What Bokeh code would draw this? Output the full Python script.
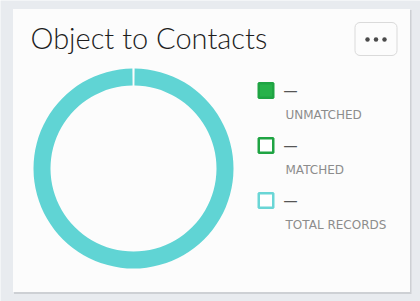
import numpy as np
from bokeh.plotting import figure
from bokeh.models import Range1d
from bokeh.core.properties import value
from bokeh.embed import file_html
from bokeh.resources import INLINE

# ---- data ----
title_text = "Object to Contacts"
categories = ["UNMATCHED", "MATCHED", "TOTAL RECORDS"]
display_values = ["\u2014", "\u2014", "\u2014"]
shares = [0.0, 0.0, 1.0]          # share of the ring for each category
fill_colors = ["#27b24a", "#ffffff", "#ffffff"]
line_colors = ["#1fa443", "#1fa443", "#6ad6d6"]
ring_color = "#60d4d4"

W, H = 420, 301
p = figure(width=W, height=H, output_backend="svg", toolbar_location=None,
           x_range=Range1d(0, W), y_range=Range1d(0, H), min_border=0,
           background_fill_color="#e8ebef", border_fill_color="#e8ebef",
           outline_line_color=None)
p.axis.visible = False
p.grid.visible = False

def Y(y):
    return H - y

# card shadow and card
p.quad(left=[13.5], right=[411], bottom=[Y(293.5)], top=[Y(9.5)],
       fill_color="#cdd0d4", line_color=None)
p.quad(left=[12.5], right=[409.5], bottom=[Y(291.5)], top=[Y(8.5)],
       fill_color="#fcfcfc", line_color=None)

# title
p.text(x=[30], y=[Y(37)], text=[title_text],
       text_font=value("Lato Light, Open Sans Light, DejaVu Sans"),
       text_font_size="29px", text_color="#1e1e1e", text_baseline="middle",
       text_align="left")

# menu button
p.rect(x=[375.5], y=[Y(38.5)], width=42, height=33, fill_color="#fcfcfc",
       line_color="#dadada", line_width=1, border_radius=5)
p.scatter(x=[367, 375.5, 384], y=[Y(39)] * 3, size=4.5, marker="circle",
          fill_color="#4a4a4a", line_color=None)

# donut
cx, cy = 133, Y(168)
gap = 0.022
cum = np.cumsum([0.0] + shares)
for i, s in enumerate(shares):
    if s <= 0:
        continue
    a0 = np.pi / 2 - 2 * np.pi * cum[i] - gap / 2
    a1 = np.pi / 2 - 2 * np.pi * cum[i + 1] + gap / 2
    p.annular_wedge(x=[cx], y=[cy], inner_radius=83, outer_radius=100,
                    inner_radius_units="screen", outer_radius_units="screen",
                    start_angle=[a0], end_angle=[a1], direction="clock",
                    fill_color=ring_color, line_color=None)

# legend
ys = [90, 145, 200]
p.rect(x=[265.5] * 3, y=[Y(v) for v in ys], width=14.5, height=14.5,
       fill_color=fill_colors, line_color=line_colors, line_width=2.5)
p.text(x=[283] * 3, y=[Y(v) for v in ys], text=display_values,
       text_font=value("Open Sans"), text_font_size="14px", text_color="#555555",
       text_baseline="middle", text_align="left")
p.text(x=[285] * 3, y=[Y(v + 24.5) for v in ys], text=categories,
       text_font=value("DejaVu Sans"), text_font_size="12px", text_color="#8c8c8c",
       text_baseline="middle", text_align="left")

open("out.html", "w").write(file_html(p, INLINE))
